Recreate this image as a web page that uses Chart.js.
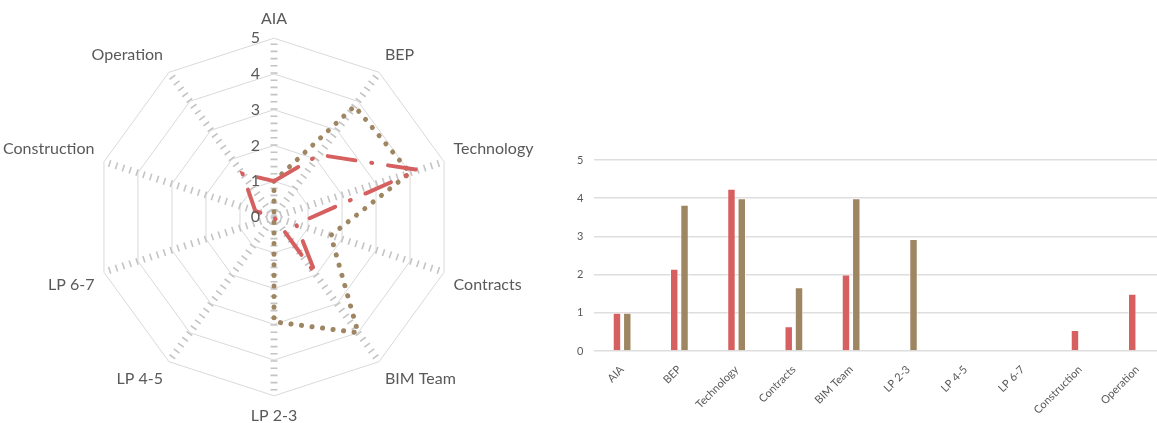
<!DOCTYPE html>
<html>
<head>
<meta charset="utf-8">
<script src="https://cdn.jsdelivr.net/npm/chart.js@4.4.1/dist/chart.umd.min.js"></script>
<style>
  html, body { margin: 0; padding: 0; background: #fff; overflow: hidden; width: 1157px; height: 423px; }
  #radarBox { position: absolute; left: -7px; top: 9px; width: 550px; height: 416px; }
  #barBox { position: absolute; left: 560px; top: 140px; width: 606px; height: 283px; }
</style>
</head>
<body>
<div id="radarBox"><canvas id="radar"></canvas></div>
<div id="barBox"><canvas id="bars"></canvas></div>
<script>
// chart data
var categories = ['AIA', 'BEP', 'Technology', 'Contracts', 'BIM Team', 'LP 2-3', 'LP 4-5', 'LP 6-7', 'Construction', 'Operation'];
var seriesRed = [1, 2.15, 4.25, 0.65, 2, 0, 0, 0, 0.55, 1.5];
var seriesBrown = [1, 3.83, 4, 1.67, 4, 2.93, 0, 0, 0, 0];
var valueTicks = [0, 1, 2, 3, 4, 5];

var red = '#d65f5f';
var brown = '#9e8662';
var textGrey = '#595959';

Chart.defaults.font.family = 'Lato, "Open Sans", sans-serif';
Chart.defaults.color = textGrey;

// radar value labels sit left of the AIA spoke, like in Excel
var radarTickLabels = {
    id: 'radarTickLabels',
    afterDatasetsDraw: function (chart) {
        var scale = chart.scales.r;
        var ctx = chart.ctx;
        ctx.save();
        ctx.font = '16px Lato, "Open Sans", sans-serif';
        ctx.fillStyle = textGrey;
        ctx.textAlign = 'right';
        ctx.textBaseline = 'middle';
        scale.ticks.forEach(function (t) {
            var p = scale.getPointPositionForValue(0, t.value);
            ctx.fillText(t.label, p.x - 14, p.y);
        });
        ctx.restore();
    }
};

new Chart(document.getElementById('radar'), {
    type: 'radar',
    data: {
        labels: categories,
        datasets: [
            {
                label: 'Series 1',
                data: seriesRed,
                borderColor: red,
                borderWidth: 4,
                borderDash: [28, 16, 1, 16],
                borderCapStyle: 'round',
                pointRadius: 0,
                fill: false
            },
            {
                label: 'Series 2',
                data: seriesBrown,
                borderColor: brown,
                borderWidth: 5,
                borderDash: [0.1, 10.5],
                borderCapStyle: 'round',
                pointRadius: 0,
                fill: false
            }
        ]
    },
    options: {
        responsive: true,
        maintainAspectRatio: false,
        animation: false,
        layout: { padding: 0 },
        plugins: { legend: { display: false }, tooltip: { enabled: false } },
        scales: {
            r: {
                min: valueTicks[0],
                max: valueTicks[valueTicks.length - 1],
                ticks: { stepSize: 1, display: false },
                grid: { color: '#d9d9d9', lineWidth: 1 },
                angleLines: {
                    color: '#c4c4c4',
                    lineWidth: 7,
                    borderDash: [1.6, 5.6],
                    borderDashOffset: 0.8
                },
                pointLabels: {
                    color: textGrey,
                    padding: 10,
                    font: { size: 16 }
                }
            }
        }
    },
    plugins: [radarTickLabels]
});

new Chart(document.getElementById('bars'), {
    type: 'bar',
    data: {
        labels: categories,
        datasets: [
            {
                label: 'Series 1',
                data: seriesRed,
                backgroundColor: red,
                borderColor: 'rgba(255,255,255,0.6)',
                borderWidth: 1,
                categoryPercentage: 0.36,
                barPercentage: 0.82
            },
            {
                label: 'Series 2',
                data: seriesBrown,
                backgroundColor: brown,
                borderColor: 'rgba(255,255,255,0.6)',
                borderWidth: 1,
                categoryPercentage: 0.36,
                barPercentage: 0.82
            }
        ]
    },
    options: {
        responsive: true,
        maintainAspectRatio: false,
        animation: false,
        layout: { padding: { top: 20, right: 0, left: 0, bottom: 0 } },
        plugins: { legend: { display: false }, tooltip: { enabled: false } },
        scales: {
            x: {
                grid: { display: false },
                border: { display: false },
                ticks: {
                    minRotation: 45,
                    maxRotation: 45,
                    padding: 4,
                    font: { size: 11 },
                    color: textGrey
                },
                afterFit: function (scale) { scale.height = 72; }
            },
            y: {
                min: valueTicks[0],
                max: valueTicks[valueTicks.length - 1],
                grid: { color: '#dedede', lineWidth: 1.5, drawTicks: false },
                border: { display: false },
                ticks: {
                    stepSize: 1,
                    padding: 10,
                    font: { size: 11 },
                    color: textGrey
                },
                afterFit: function (scale) { scale.width = 33.5; }
            }
        }
    }
});
</script>
</body>
</html>
